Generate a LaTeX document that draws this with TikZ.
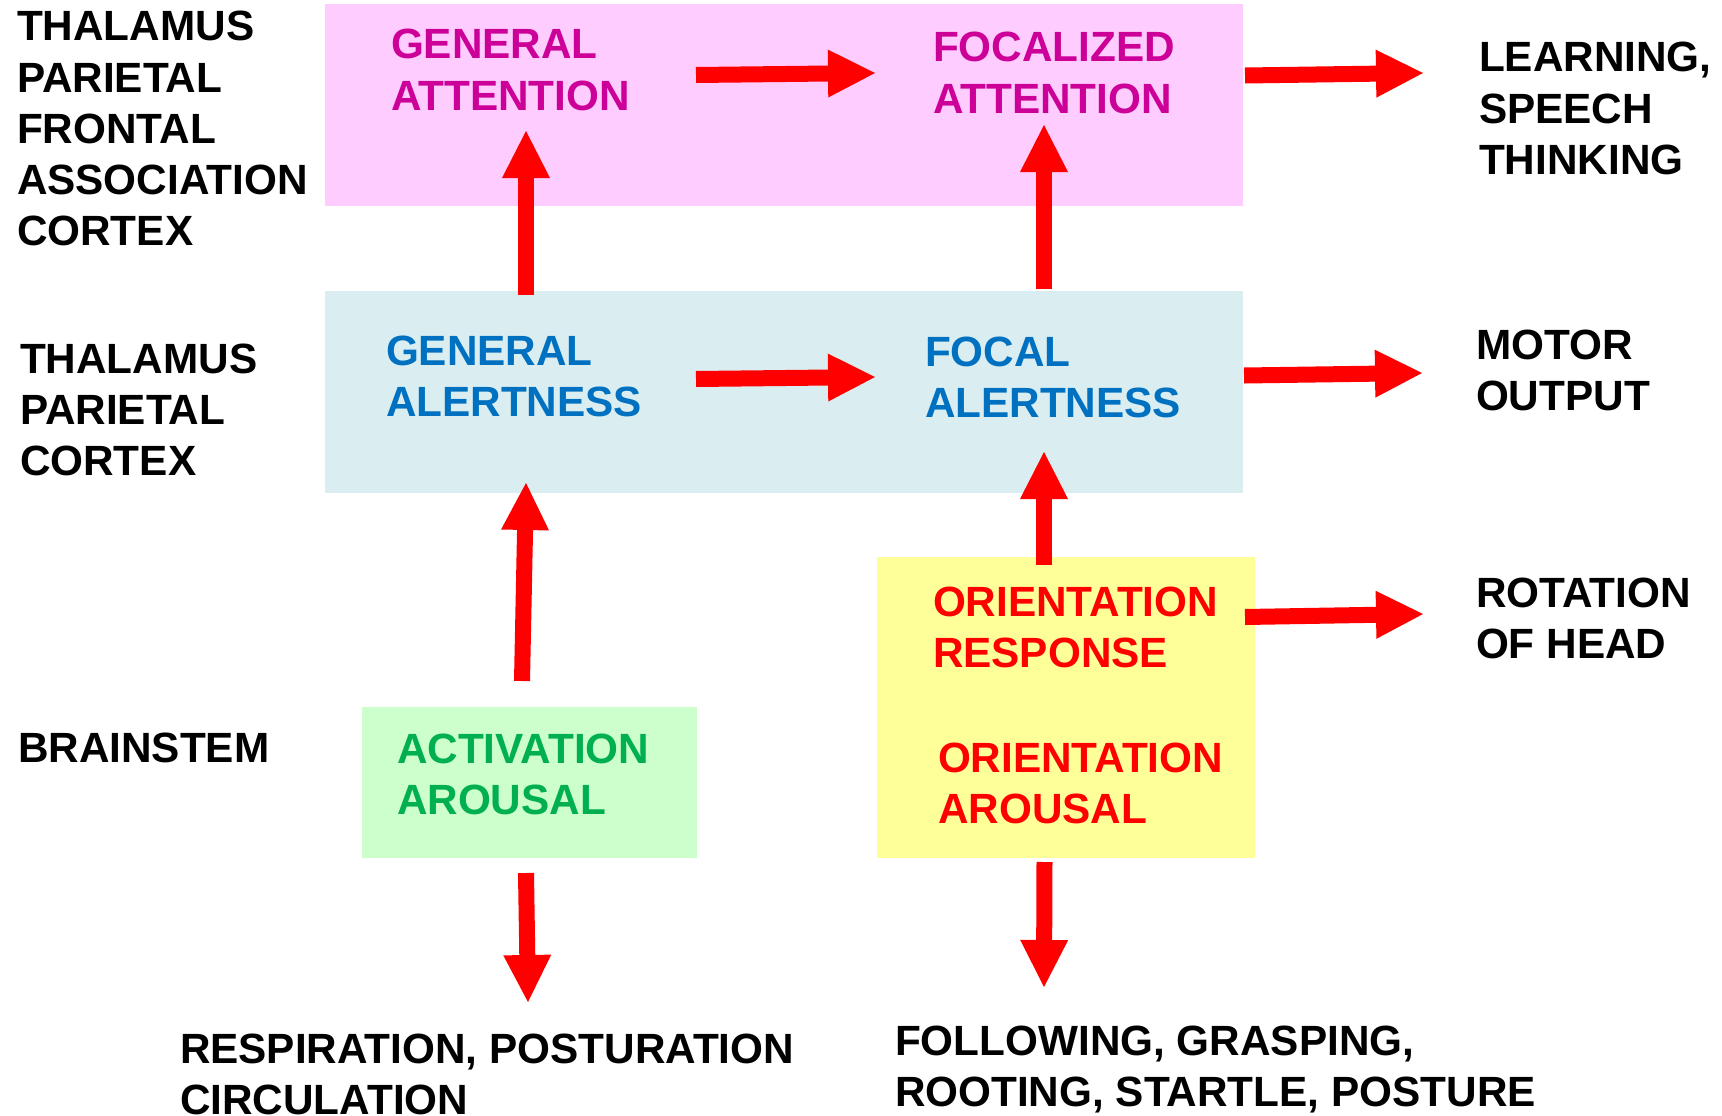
\documentclass[tikz,border=0pt]{standalone}
\usepackage{fontspec}
\setmainfont{Liberation Sans}
\usetikzlibrary{arrows.meta}
\definecolor{pinkfill}{HTML}{FFCCFF}
\definecolor{bluefill}{HTML}{DAEEF1}
\definecolor{greenfill}{HTML}{CCFFCC}
\definecolor{yellowfill}{HTML}{FFFF99}
\definecolor{magtext}{HTML}{CC0099}
\definecolor{bluetext}{HTML}{0070C0}
\definecolor{greentext}{HTML}{00B050}
\definecolor{redtext}{HTML}{FF0000}
\definecolor{arrowred}{HTML}{FF0000}
\newcommand\mltext[1]{\begin{tabular}[t]{@{}l@{}}#1\end{tabular}}
\begin{document}
\begin{tikzpicture}[x=1pt,y=-1pt,
  box/.style={draw=none, inner sep=0pt, outer sep=0pt, anchor=north west},
  lbl/.style={anchor=base west, inner sep=0pt, outer sep=0pt, font=\fontsize{42.3}{51.2}\selectfont\bfseries},
  redarrow/.style={draw=arrowred, line width=16pt, -{Triangle[width=48pt,length=47pt,line width=0pt,fill=arrowred]}}
]
\useasboundingbox (0,0) rectangle (1722,1116);
% boxes
\node[box, fill=pinkfill, minimum width=918pt, minimum height=202pt] (pink) at (325,4) {};
\node[box, fill=bluefill, minimum width=918pt, minimum height=202pt] (blue) at (325,291) {};
\node[box, fill=greenfill, minimum width=335pt, minimum height=151pt] (green) at (362,707) {};
\node[box, fill=yellowfill, minimum width=378pt, minimum height=301pt] (yellow) at (877,557) {};
% arrow end points
\coordinate (a1s) at (696,75);   \coordinate (a1e) at (875,73);
\coordinate (a2s) at (1245,75.5);\coordinate (a2e) at (1423,73);
\coordinate (a3s) at (696,379);  \coordinate (a3e) at (875,377);
\coordinate (a4s) at (1244,375.5);\coordinate (a4e) at (1422,373);
\coordinate (a5s) at (1245,617); \coordinate (a5e) at (1423,614);
\coordinate (v1s) at (526,295);  \coordinate (v1e) at (526,131);
\coordinate (v2s) at (1044,289); \coordinate (v2e) at (1044,125);
\coordinate (v3s) at (522,681);  \coordinate (v3e) at (526,483);
\coordinate (v4s) at (1044,565); \coordinate (v4e) at (1044,452);
\coordinate (v5s) at (526,873);  \coordinate (v5e) at (528,1002);
\coordinate (v6s) at (1044.5,862); \coordinate (v6e) at (1044,987);
\foreach \a in {a1,a2,a3,a4,a5,v1,v2,v3,v4,v5,v6}{
  \draw[redarrow] (\a s) -- (\a e);
}
% texts
\node[lbl] (left1) at (17,41) {\mltext{THALAMUS\\PARIETAL\\FRONTAL\\ASSOCIATION\\CORTEX}};
\node[lbl] (left2) at (20,373) {\mltext{THALAMUS\\PARIETAL\\CORTEX}};
\node[lbl] (brainstem) at (18,762) {BRAINSTEM};
\node[lbl, text=magtext] (ga) at (391,59) {\mltext{GENERAL\\ATTENTION}};
\node[lbl, text=magtext] (fa) at (933,62) {\mltext{FOCALIZED\\ATTENTION}};
\node[lbl] (learn) at (1479,72) {\mltext{LEARNING,\\SPEECH\\THINKING}};
\node[lbl, text=bluetext] (gal) at (386,365) {\mltext{GENERAL\\ALERTNESS}};
\node[lbl, text=bluetext] (fal) at (925,366) {\mltext{FOCAL\\ALERTNESS}};
\node[lbl] (motor) at (1476,359) {\mltext{MOTOR\\OUTPUT}};
\node[lbl, text=greentext] (act) at (397,763) {\mltext{ACTIVATION\\AROUSAL}};
\node[lbl, text=redtext] (orr) at (933,616) {\mltext{ORIENTATION\\RESPONSE}};
\node[lbl, text=redtext] (ora) at (938,772) {\mltext{ORIENTATION\\AROUSAL}};
\node[lbl] (rot) at (1476,607) {\mltext{ROTATION\\OF HEAD}};
\node[lbl] (resp) at (180,1063) {\mltext{RESPIRATION, POSTURATION\\CIRCULATION}};
\node[lbl] (foll) at (895,1055) {\mltext{FOLLOWING, GRASPING,\\ROOTING, STARTLE, POSTURE}};
\end{tikzpicture}
\end{document}
